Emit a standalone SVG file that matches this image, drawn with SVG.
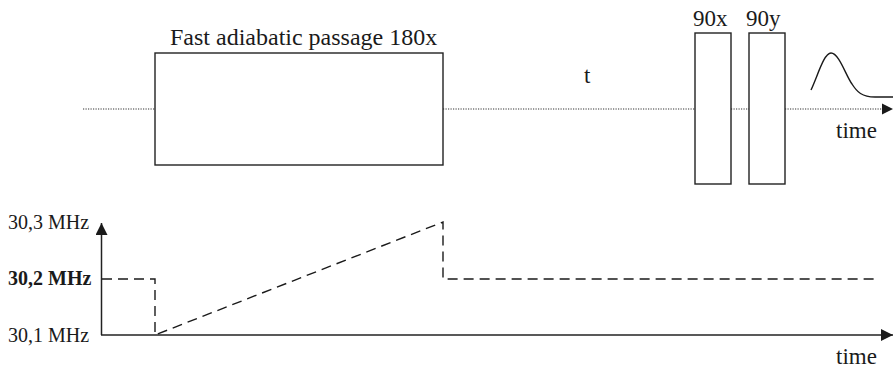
<svg xmlns="http://www.w3.org/2000/svg" width="894" height="369" viewBox="0 0 894 369">
  <defs>
    <style>
      text { font-family: "Liberation Serif", "Times New Roman", serif; fill: #1a1a1a; }
      .title { font-size: 24px; }
      .lbl { font-size: 23px; }
      .freq { font-size: 20px; }
      .box { fill: #ffffff; stroke: #222222; stroke-width: 1.4; }
      .dotted { fill: none; stroke: #333333; stroke-width: 1.2; stroke-dasharray: 1.2 1.3; }
      .axis { fill: none; stroke: #222222; stroke-width: 1.5; }
      .dash { fill: none; stroke: #1a1a1a; stroke-width: 1.4; stroke-dasharray: 10 6; }
      .signal { fill: none; stroke: #1a1a1a; stroke-width: 1.4; }
    </style>
    <marker id="arrow" viewBox="0 0 12 12" refX="12" refY="6" markerWidth="12" markerHeight="12" markerUnits="userSpaceOnUse" orient="auto">
      <path d="M0,0 L12,6 L0,12 Z" fill="#1a1a1a"/>
    </marker>
  </defs>

  <!-- Pulse sequence timeline -->
  <g id="connectors">
    <line class="dotted" x1="83" y1="109" x2="155" y2="109"/>
    <line class="dotted" x1="443" y1="109" x2="695" y2="109"/>
    <line class="dotted" x1="731" y1="109" x2="749" y2="109"/>
    <line class="dotted" x1="785" y1="109" x2="882" y2="109"/>
    <path d="M882,103.5 L893,109 L882,114.5 Z" fill="#1a1a1a"/>
  </g>

  <g id="fast-passage">
    <rect class="box" x="155" y="53" width="288" height="112"/>
    <text class="title" x="170" y="45">Fast adiabatic passage 180x</text>
  </g>

  <g id="delay">
    <text class="lbl" x="584" y="83">t</text>
  </g>

  <g id="pulse-90x">
    <rect class="box" x="695" y="33" width="36" height="151"/>
    <text class="lbl" x="693" y="26">90x</text>
  </g>

  <g id="pulse-90y">
    <rect class="box" x="749" y="33" width="36" height="151"/>
    <text class="lbl" x="746" y="26">90y</text>
  </g>

  <g id="fid">
    <path class="signal" d="M811,90 C818,75 824,53 831,53 C839,53 846,76 852,84 C857,92 862,97 875,97 L893,97"/>
  </g>

  <g id="time-label-top">
    <text class="lbl" x="836" y="138">time</text>
  </g>

  <!-- Frequency sweep plot -->
  <g id="freq-axes">
    <line class="axis" x1="101.5" y1="335" x2="101.5" y2="223" marker-end="url(#arrow)"/>
    <line class="axis" x1="101" y1="335" x2="893" y2="335" marker-end="url(#arrow)"/>
    <text class="freq" x="8" y="229">30,3 MHz</text>
    <text class="freq" x="8" y="285" font-weight="bold">30,2 MHz</text>
    <text class="freq" x="8" y="342">30,1 MHz</text>
    <text class="lbl" x="836" y="364">time</text>
  </g>

  <g id="freq-trace">
    <path class="dash" d="M102,279 L155,279 L155,335 L443,222 L443,279 L876,279"/>
  </g>
</svg>
